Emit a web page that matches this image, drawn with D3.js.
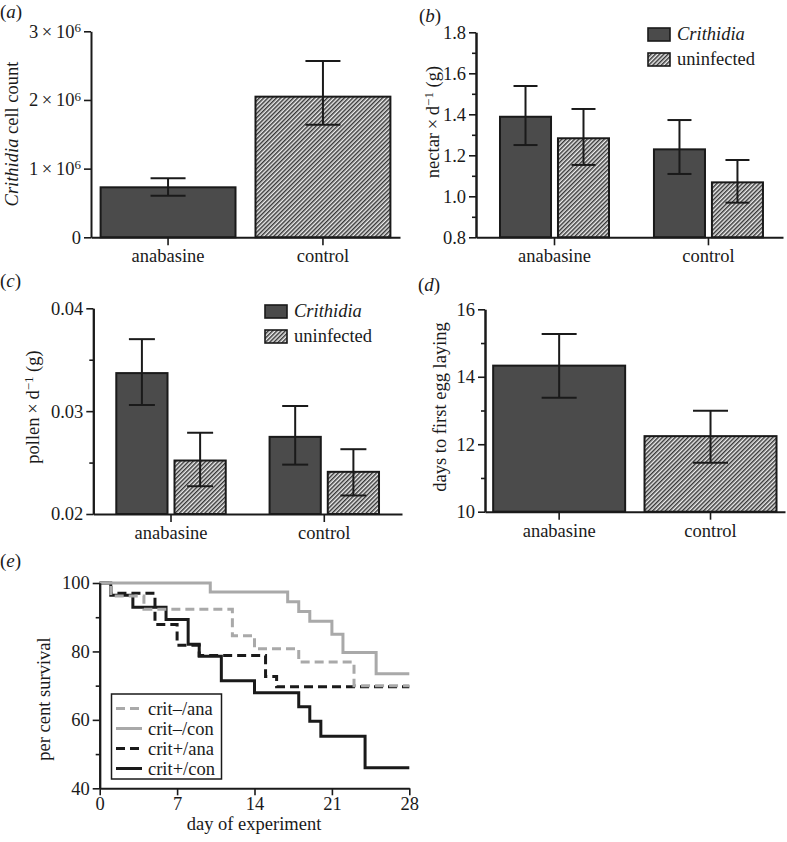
<!DOCTYPE html>
<html>
<head>
<meta charset="utf-8">
<script src="https://cdn.jsdelivr.net/npm/d3@7"></script>
<style>
  body { margin: 0; background: #fff; }
  svg { font-family: "Liberation Serif", "Times New Roman", serif; }
</style>
</head>
<body>
<svg id="chart" width="787" height="842"></svg>
<script>
// ---- data ----
const treatments = ['anabasine', 'control'];
const infection = ['Crithidia', 'uninfected'];

// (a) Crithidia cell count (mean, lower and upper error bar ends)
const cellMean = [0.728e6, 2.048e6];
const cellLow = [0.606e6, 1.640e6];
const cellHigh = [0.859e6, 2.568e6];

// (b) nectar x d-1 (g)
const nectarCrithidia = [1.388, 1.229];
const nectarCrithidiaLow = [1.250, 1.109];
const nectarCrithidiaHigh = [1.538, 1.372];
const nectarUninfected = [1.283, 1.068];
const nectarUninfectedLow = [1.153, 0.969];
const nectarUninfectedHigh = [1.426, 1.177];

// (c) pollen x d-1 (g)
const pollenCrithidia = [0.0337, 0.0275];
const pollenCrithidiaLow = [0.0306, 0.0248];
const pollenCrithidiaHigh = [0.0370, 0.0305];
const pollenUninfected = [0.0252, 0.0241];
const pollenUninfectedLow = [0.0227, 0.0218];
const pollenUninfectedHigh = [0.0279, 0.0263];

// (d) days to first egg laying
const eggMean = [14.33, 12.24];
const eggLow = [13.38, 11.45];
const eggHigh = [15.27, 12.99];

// (e) survival curves (step after)
const survivalNames = ['crit\u2013/ana', 'crit\u2013/con', 'crit+/ana', 'crit+/con'];
const critMinusAnaDays = [0, 1, 4, 12, 14, 18, 23, 28];
const critMinusAnaSurv = [100, 96.2, 92.3, 84.6, 80.8, 76.9, 70.0, 70.0];
const critMinusConDays = [0, 10, 17, 18, 19, 21, 22, 25, 28];
const critMinusConSurv = [100, 97.4, 94.5, 91.7, 88.8, 85.0, 79.7, 73.5, 73.5];
const critPlusAnaDays = [0, 1, 5, 7, 9, 15, 16, 28];
const critPlusAnaSurv = [100, 97.0, 87.9, 81.8, 78.8, 72.7, 69.7, 69.7];
const critPlusConDays = [0, 1, 3, 6, 8, 9, 11, 14, 18, 19, 20, 24, 28];
const critPlusConSurv = [100, 96.4, 92.9, 89.3, 82.1, 78.6, 71.4, 67.9, 63.8, 59.6, 55.2, 46.0, 46.0];

const dayTicks = [0, 7, 14, 21, 28];

// ---- drawing ----
const FONT = 18.5;
const darkFill = '#4b4b4b';
const lineGray = '#a9a9a9';
const ink = '#1a1a1a';

const svg = d3.select('#chart');

const defs = svg.append('defs');
const hatch = defs.append('pattern')
    .attr('id', 'hatch')
    .attr('patternUnits', 'userSpaceOnUse')
    .attr('width', 3)
    .attr('height', 3)
    .attr('patternTransform', 'rotate(45)');
hatch.append('rect').attr('width', 3).attr('height', 3).attr('fill', '#ececec');
hatch.append('line')
    .attr('x1', 0.75).attr('y1', 0).attr('x2', 0.75).attr('y2', 3)
    .attr('stroke', '#2e2e2e').attr('stroke-width', 1.4);

const styleAxis = (g) => {
    g.select('.domain').attr('stroke', ink).attr('stroke-width', 2);
    g.selectAll('.tick line').attr('stroke', ink).attr('stroke-width', 1.6);
    g.selectAll('.tick text')
        .attr('font-size', FONT)
        .attr('font-family', '"Liberation Serif", serif')
        .attr('fill', ink);
};

const panelLabel = (x, y, letter) => {
    const t = svg.append('text')
        .attr('x', x).attr('y', y)
        .attr('font-size', 19)
        .attr('fill', ink);
    t.append('tspan').text('(');
    t.append('tspan').attr('font-style', 'italic').text(letter);
    t.append('tspan').text(')');
};

const yLabel = (x, y, build) => {
    const t = svg.append('text')
        .attr('transform', `translate(${x},${y}) rotate(-90)`)
        .attr('text-anchor', 'middle')
        .attr('font-size', FONT)
        .attr('fill', ink);
    build(t);
};

const legend = (x, y) => {
    const items = [darkFill, 'url(#hatch)'];
    items.forEach((fill, i) => {
        svg.append('rect')
            .attr('x', x).attr('y', y + i * 25)
            .attr('width', 22).attr('height', 13)
            .attr('fill', fill)
            .attr('stroke', ink).attr('stroke-width', 1.6);
        svg.append('text')
            .attr('x', x + 29).attr('y', y + i * 25 + 12)
            .attr('font-size', FONT)
            .attr('font-style', i === 0 ? 'italic' : 'normal')
            .attr('fill', ink)
            .text(infection[i]);
    });
};

// generic bar panel
const drawBars = (cfg) => {
    const y = d3.scaleLinear().domain(cfg.domain).range([cfg.y1, cfg.y0]);
    const x = d3.scaleBand()
        .domain(treatments)
        .range([cfg.x0, cfg.x1])
        .paddingInner(cfg.padInner)
        .paddingOuter(cfg.padOuter)
        .align(cfg.align);
    const sub = d3.scaleBand()
        .domain(d3.range(cfg.series.length))
        .range([0, x.bandwidth()])
        .paddingInner(cfg.series.length > 1 ? 0.12 : 0);

    const g = svg.append('g');

    cfg.series.forEach((s, si) => {
        treatments.forEach((t, ti) => {
            const bx = x(t) + sub(si);
            const bw = sub.bandwidth();
            const fill = s.fill ? s.fill[ti] : (si === 0 ? darkFill : 'url(#hatch)');
            g.append('rect')
                .attr('x', bx).attr('y', y(s.mean[ti]))
                .attr('width', bw).attr('height', y(cfg.domain[0]) - y(s.mean[ti]))
                .attr('fill', fill)
                .attr('stroke', ink).attr('stroke-width', 2);
            const cx = bx + bw / 2;
            const cap = cfg.cap / 2;
            g.append('line')
                .attr('x1', cx).attr('x2', cx)
                .attr('y1', y(s.low[ti])).attr('y2', y(s.high[ti]))
                .attr('stroke', ink).attr('stroke-width', 2);
            [s.low[ti], s.high[ti]].forEach(v => {
                g.append('line')
                    .attr('x1', cx - cap).attr('x2', cx + cap)
                    .attr('y1', y(v)).attr('y2', y(v))
                    .attr('stroke', ink).attr('stroke-width', 2);
            });
        });
    });

    // minor ticks
    if (cfg.minor) {
        svg.append('g')
            .attr('transform', `translate(${cfg.x0},0)`)
            .call(d3.axisLeft(y).tickValues(cfg.minor).tickSize(4).tickSizeOuter(0).tickFormat(''))
            .call(styleAxis);
    }
    const yAxis = svg.append('g')
        .attr('transform', `translate(${cfg.x0},0)`)
        .call(d3.axisLeft(y).tickValues(cfg.ticks).tickSize(7).tickSizeOuter(0)
            .tickPadding(3).tickFormat(cfg.format))
        .call(styleAxis);
    if (cfg.decorate) cfg.decorate(yAxis);

    svg.append('g')
        .attr('transform', `translate(0,${cfg.y1})`)
        .call(d3.axisBottom(x).tickSize(8).tickSizeOuter(0).tickPadding(4))
        .call(styleAxis);
};

// (a)
panelLabel(0, 18, 'a');
drawBars({
    x0: 91, x1: 400, y0: 31.3, y1: 237.3,
    padInner: 0.129, padOuter: 0.062, align: 0.5,
    domain: [0, 3e6], ticks: [0, 1e6, 2e6, 3e6],
    format: d => d === 0 ? '0' : `${d / 1e6}`,
    decorate: (g) => {
        g.selectAll('.tick text').each(function (d) {
            if (d === 0) return;
            const t = d3.select(this);
            t.text(null);
            t.append('tspan').text(`${d / 1e6}\u2009\u00d7\u200910`);
            t.append('tspan').attr('font-size', 13).attr('dy', '-0.45em').text('6');
        });
    },
    cap: 35,
    series: [{ mean: cellMean, low: cellLow, high: cellHigh, fill: [darkFill, 'url(#hatch)'] }]
});
yLabel(18, 134, t => {
    t.append('tspan').attr('font-style', 'italic').text('Crithidia');
    t.append('tspan').text(' cell count');
});

// (b)
panelLabel(419, 22, 'b');
drawBars({
    x0: 476, x1: 783, y0: 32.3, y1: 237.3,
    padInner: 0.292, padOuter: 0.143, align: 0.545,
    domain: [0.8, 1.8], ticks: [0.8, 1.0, 1.2, 1.4, 1.6, 1.8],
    minor: [0.9, 1.1, 1.3, 1.5, 1.7],
    format: d3.format('.1f'),
    cap: 24,
    series: [
        { mean: nectarCrithidia, low: nectarCrithidiaLow, high: nectarCrithidiaHigh },
        { mean: nectarUninfected, low: nectarUninfectedLow, high: nectarUninfectedHigh }
    ]
});
legend(648, 28);
yLabel(439, 122, t => {
    t.append('tspan').text('nectar\u2009\u00d7\u2009d');
    t.append('tspan').attr('font-size', 13).attr('dy', '-0.45em').text('\u22121');
    t.append('tspan').attr('dy', '0.32em').text(' (g)');
});

// (c)
panelLabel(0, 287, 'c');
drawBars({
    x0: 93.3, x1: 402, y0: 308.3, y1: 514,
    padInner: 0.286, padOuter: 0.15, align: 0.5,
    domain: [0.02, 0.04], ticks: [0.02, 0.03, 0.04],
    minor: [0.025, 0.035],
    format: d3.format('.2f'),
    cap: 26,
    series: [
        { mean: pollenCrithidia, low: pollenCrithidiaLow, high: pollenCrithidiaHigh },
        { mean: pollenUninfected, low: pollenUninfectedLow, high: pollenUninfectedHigh }
    ]
});
legend(265, 305);
yLabel(39, 407, t => {
    t.append('tspan').text('pollen\u2009\u00d7\u2009d');
    t.append('tspan').attr('font-size', 13).attr('dy', '-0.45em').text('\u22121');
    t.append('tspan').attr('dy', '0.32em').text(' (g)');
});

// (d)
panelLabel(418, 291, 'd');
drawBars({
    x0: 485, x1: 785, y0: 309.3, y1: 511.7,
    padInner: 0.128, padOuter: 0.055, align: 0.49,
    domain: [10, 16], ticks: [10, 12, 14, 16],
    minor: [11, 13, 15],
    format: d3.format('d'),
    cap: 35,
    series: [{ mean: eggMean, low: eggLow, high: eggHigh, fill: [darkFill, 'url(#hatch)'] }]
});
yLabel(446, 407, t => t.text('days to first egg laying'));

// (e) survival
panelLabel(0, 567, 'e');
const xs = d3.scaleLinear().domain([0, 28]).range([99.7, 409.3]);
const ys = d3.scaleLinear().domain([40, 100]).range([788.3, 583]);

const survival = [
    { name: survivalNames[3], days: critPlusConDays, surv: critPlusConSurv, color: ink, dash: null },
    { name: survivalNames[2], days: critPlusAnaDays, surv: critPlusAnaSurv, color: ink, dash: '9,5' },
    { name: survivalNames[1], days: critMinusConDays, surv: critMinusConSurv, color: lineGray, dash: null },
    { name: survivalNames[0], days: critMinusAnaDays, surv: critMinusAnaSurv, color: lineGray, dash: '9,5' }
];

const line = d3.line()
    .x(d => xs(d[0]))
    .y(d => ys(d[1]))
    .curve(d3.curveStepAfter);

svg.append('g').selectAll('path')
    .data(survival)
    .join('path')
    .attr('d', s => line(s.days.map((d, i) => [d, s.surv[i]])))
    .attr('fill', 'none')
    .attr('stroke', s => s.color)
    .attr('stroke-width', 3)
    .attr('stroke-dasharray', s => s.dash);

svg.append('g')
    .attr('transform', `translate(${xs(0)},0)`)
    .call(d3.axisLeft(ys).tickValues([50, 70, 90]).tickSize(4).tickSizeOuter(0).tickFormat(''))
    .call(styleAxis);
svg.append('g')
    .attr('transform', `translate(${xs(0)},0)`)
    .call(d3.axisLeft(ys).tickValues([40, 60, 80, 100]).tickSize(7).tickSizeOuter(0).tickPadding(3))
    .call(styleAxis);
svg.append('g')
    .attr('transform', `translate(0,${ys(40)})`)
    .call(d3.axisBottom(xs).tickValues(dayTicks).tickSize(7).tickSizeOuter(0).tickPadding(2))
    .call(styleAxis);

yLabel(50, 699, t => t.text('per cent survival'));
svg.append('text')
    .attr('x', 254).attr('y', 830)
    .attr('text-anchor', 'middle')
    .attr('font-size', FONT)
    .attr('fill', ink)
    .text('day of experiment');

// legend for (e)
const legE = svg.append('g');
legE.append('rect')
    .attr('x', 111.5).attr('y', 694)
    .attr('width', 110).attr('height', 85)
    .attr('fill', '#fff')
    .attr('stroke', ink).attr('stroke-width', 1.5);
const legOrder = [survival[3], survival[2], survival[1], survival[0]];
legOrder.forEach((s, i) => {
    const cy = 708.5 + i * 20;
    legE.append('line')
        .attr('x1', 116).attr('x2', 142)
        .attr('y1', cy).attr('y2', cy)
        .attr('stroke', s.color).attr('stroke-width', 3)
        .attr('stroke-dasharray', s.dash);
    legE.append('text')
        .attr('x', 148).attr('y', cy + 6)
        .attr('font-size', FONT)
        .attr('fill', ink)
        .text(s.name);
});
</script>
</body>
</html>
